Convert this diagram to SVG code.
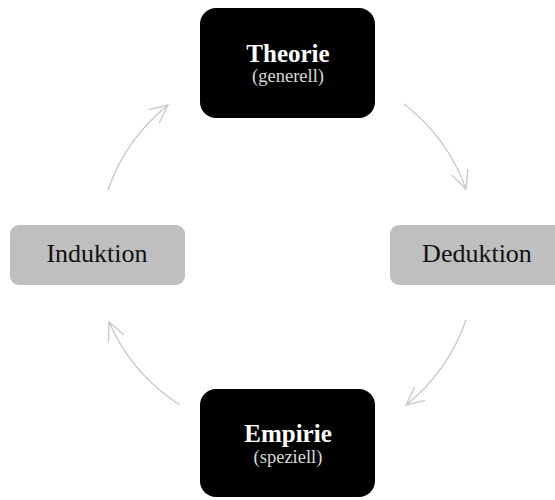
<svg xmlns="http://www.w3.org/2000/svg" width="555" height="500" viewBox="0 0 555 500">
  <style>
    .dark { fill: #000000; }
    .light { fill: #bfbfbf; }
    .title { font-family: "Liberation Serif", "DejaVu Serif", serif; font-weight: bold; font-size: 25px; fill: #ffffff; text-anchor: middle; }
    .sub { font-family: "Liberation Serif", "DejaVu Serif", serif; font-size: 18.5px; fill: #d9d9d9; text-anchor: middle; }
    .label { font-family: "Liberation Serif", "DejaVu Serif", serif; font-size: 26px; fill: #111111; text-anchor: middle; }
    .arc { fill: none; stroke: #c8c8c8; stroke-width: 1.3; }
  </style>
  <defs>
    <marker id="head" markerUnits="userSpaceOnUse" markerWidth="24" markerHeight="24" viewBox="-20 -12 24 24" refX="0" refY="0" orient="auto">
      <path d="M -18 -8.5 L 0 0 L -18 8.5" fill="none" stroke="#c8c8c8" stroke-width="1.3"/>
    </marker>
  </defs>

  <g id="connectors">
    <path class="arc" d="M 404 104 A 188 188 0 0 1 466 189" marker-end="url(#head)"/>
    <path class="arc" d="M 466 320 A 188 188 0 0 1 406 405" marker-end="url(#head)"/>
    <path class="arc" d="M 180 405 A 188 188 0 0 1 109 322" marker-end="url(#head)"/>
    <path class="arc" d="M 108 190 A 188 188 0 0 1 168 105" marker-end="url(#head)"/>
  </g>

  <g id="theorie">
    <rect class="dark" x="200" y="8" width="175" height="110" rx="16"/>
    <text class="title" x="288" y="62">Theorie</text>
    <text class="sub" x="288" y="82">(generell)</text>
  </g>

  <g id="deduktion">
    <rect class="light" x="390" y="225" width="175" height="60" rx="9"/>
    <text class="label" x="477" y="262">Deduktion</text>
  </g>

  <g id="empirie">
    <rect class="dark" x="200" y="389" width="175" height="108" rx="16"/>
    <text class="title" x="288" y="442">Empirie</text>
    <text class="sub" x="288" y="463">(speziell)</text>
  </g>

  <g id="induktion">
    <rect class="light" x="10" y="225" width="175" height="60" rx="9"/>
    <text class="label" x="97" y="262">Induktion</text>
  </g>
</svg>
